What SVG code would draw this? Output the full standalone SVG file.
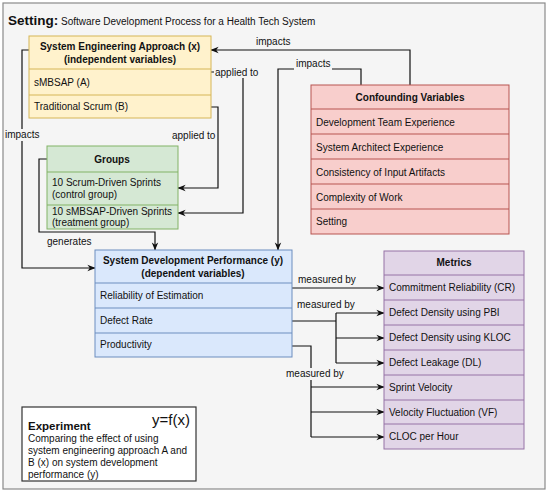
<svg xmlns="http://www.w3.org/2000/svg" width="550" height="493" viewBox="0 0 550 493">
<style>
text{font-family:"Liberation Sans",Arial,sans-serif;fill:#111}
.h{font-weight:bold;font-size:10px;text-anchor:middle}
.r{font-size:10px}
.l{font-size:10px}
.c{fill:none;stroke:#111;stroke-width:1.2}
.ca{fill:none;stroke:#111;stroke-width:1.2;marker-end:url(#arr)}
.yel{fill:#fff2cc;stroke:#d6b656}
.grn{fill:#d5e8d4;stroke:#82b366}
.red{fill:#f8cecc;stroke:#b85450}
.blu{fill:#dae8fc;stroke:#6c8ebf}
.pur{fill:#e1d5e7;stroke:#9673a6}
.bg{fill:#f5f5f5}
</style>
<defs>
<marker id="arr" viewBox="0 0 10 10" refX="9.5" refY="5" markerWidth="8" markerHeight="8" orient="auto" markerUnits="userSpaceOnUse">
<path d="M0,1 L10,5 L0,9 L3,5 z" fill="#111"/>
</marker>
</defs>
<rect x="3" y="3" width="542" height="486" fill="#f5f5f5" stroke="#8a8a8a" stroke-width="1.2"/>
<g id="title">
<text x="8" y="25" style="font-size:13.5px;font-weight:bold">Setting:<tspan style="font-size:10px;font-weight:normal"> Software Development Process for a Health Tech System</tspan></text>
</g>
<g id="connectors">
<path class="ca" d="M410,85 V50 H211"/>
<text class="l" x="256" y="45">impacts</text>
<path class="ca" d="M361,85 V69 H278 V250"/>
<rect class="bg" x="294" y="58" width="38" height="12"/>
<text class="l" x="296" y="67">impacts</text>
<path class="ca" d="M29,50 H22 V268 H95"/>
<rect class="bg" x="4" y="129" width="40" height="12"/>
<text class="l" x="5" y="138">impacts</text>
<path class="ca" d="M211,107 H218 V188 H178"/>
<text class="l" x="172" y="139">applied to</text>
<path class="ca" d="M211,72 H243 V213 H178"/>
<rect class="bg" x="214" y="66" width="45" height="12"/>
<text class="l" x="215" y="76">applied to</text>
<path class="ca" d="M47,159 H39 V232 H155 V250"/>
<text class="l" x="47" y="245">generates</text>
<path class="ca" d="M292,288 H384"/>
<text class="l" x="298" y="283">measured by</text>
<path class="c" d="M292,321 H336 M336,313 V363"/>
<path class="ca" d="M336,313 H384"/>
<path class="ca" d="M336,338 H384"/>
<path class="ca" d="M336,363 H384"/>
<text class="l" x="297" y="308">measured by</text>
<path class="c" d="M292,346 H311 V437"/>
<path class="ca" d="M311,387 H384"/>
<path class="ca" d="M311,412 H384"/>
<path class="ca" d="M311,437 H384"/>
<rect class="bg" x="285" y="368" width="60" height="12"/>
<text class="l" x="286" y="377">measured by</text>
</g>
<g id="sea">
<rect class="yel" x="29" y="36" width="182" height="82"/>
<line class="yel" x1="29" y1="69" x2="211" y2="69"/>
<line class="yel" x1="29" y1="95" x2="211" y2="95"/>
<text class="h" x="120" y="50">System Engineering Approach (x)</text>
<text class="h" x="120" y="63">(independent variables)</text>
<text class="r" x="34" y="86">sMBSAP (A)</text>
<text class="r" x="34" y="110">Traditional Scrum (B)</text>
</g>
<g id="groups">
<rect class="grn" x="47" y="146" width="131" height="83"/>
<line class="grn" x1="47" y1="172" x2="178" y2="172"/>
<line class="grn" x1="47" y1="205" x2="178" y2="205"/>
<text class="h" x="112" y="163">Groups</text>
<text class="r" x="52" y="186">10 Scrum-Driven Sprints</text>
<text class="r" x="52" y="198">(control group)</text>
<text class="r" x="52" y="215">10 sMBSAP-Driven Sprints</text>
<text class="r" x="52" y="226">(treatment group)</text>
</g>
<g id="confounding">
<rect class="red" x="311" y="85" width="198" height="149"/>
<line class="red" x1="311" y1="109" x2="509" y2="109"/>
<line class="red" x1="311" y1="134" x2="509" y2="134"/>
<line class="red" x1="311" y1="159" x2="509" y2="159"/>
<line class="red" x1="311" y1="184" x2="509" y2="184"/>
<line class="red" x1="311" y1="209" x2="509" y2="209"/>
<text class="h" x="410" y="101">Confounding Variables</text>
<text class="r" x="316" y="126">Development Team Experience</text>
<text class="r" x="316" y="151">System Architect Experience</text>
<text class="r" x="316" y="176">Consistency of Input Artifacts</text>
<text class="r" x="316" y="201">Complexity of Work</text>
<text class="r" x="316" y="225">Setting</text>
</g>
<g id="sdp">
<rect class="blu" x="95" y="250" width="197" height="107"/>
<line class="blu" x1="95" y1="283" x2="292" y2="283"/>
<line class="blu" x1="95" y1="308" x2="292" y2="308"/>
<line class="blu" x1="95" y1="333" x2="292" y2="333"/>
<text class="h" x="193" y="264">System Development Performance (y)</text>
<text class="h" x="193" y="277">(dependent variables)</text>
<text class="r" x="100" y="299">Reliability of Estimation</text>
<text class="r" x="100" y="324">Defect Rate</text>
<text class="r" x="100" y="348">Productivity</text>
</g>
<g id="metrics">
<rect class="pur" x="384" y="251" width="140" height="198"/>
<line class="pur" x1="384" y1="275" x2="524" y2="275"/>
<line class="pur" x1="384" y1="300" x2="524" y2="300"/>
<line class="pur" x1="384" y1="325" x2="524" y2="325"/>
<line class="pur" x1="384" y1="350" x2="524" y2="350"/>
<line class="pur" x1="384" y1="375" x2="524" y2="375"/>
<line class="pur" x1="384" y1="400" x2="524" y2="400"/>
<line class="pur" x1="384" y1="424" x2="524" y2="424"/>
<text class="h" x="454" y="266">Metrics</text>
<text class="r" x="389" y="291">Commitment Reliability (CR)</text>
<text class="r" x="389" y="316">Defect Density using PBI</text>
<text class="r" x="389" y="341">Defect Density using KLOC</text>
<text class="r" x="389" y="366">Defect Leakage (DL)</text>
<text class="r" x="389" y="391">Sprint Velocity</text>
<text class="r" x="389" y="416">Velocity Fluctuation (VF)</text>
<text class="r" x="389" y="440">CLOC per Hour</text>
</g>
<g id="experiment">
<rect x="22" y="407" width="174" height="74" fill="#fff" stroke="#333" stroke-width="1.2"/>
<text x="152" y="425" style="font-size:15px">y=f(x)</text>
<text x="28" y="430" style="font-size:11.5px;font-weight:bold">Experiment</text>
<text class="r" x="28" y="442">Comparing the effect of using</text>
<text class="r" x="28" y="454">system engineering approach A and</text>
<text class="r" x="28" y="466">B (x) on system development</text>
<text class="r" x="28" y="478">performance (y)</text>
</g>
</svg>
